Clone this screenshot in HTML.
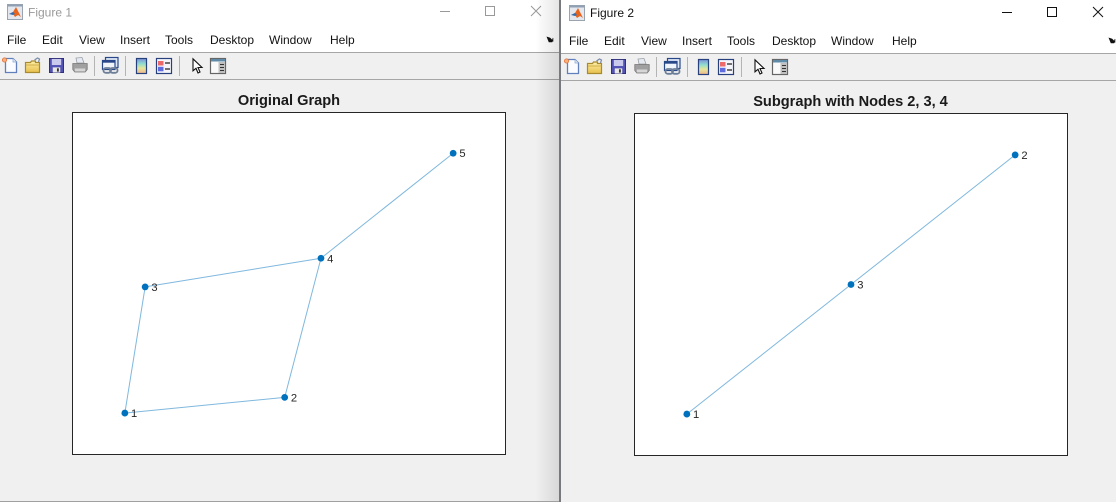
<!DOCTYPE html>
<html lang="en">
<head>
<meta charset="utf-8">
<title>Figure 1 and Figure 2</title>
<style>
html,body{margin:0;padding:0;width:1116px;height:502px;overflow:hidden;background:#f0f0f0}
svg{display:block;font-family:"Liberation Sans",sans-serif}
.menu{font-size:12px;fill:#111}
.ttl{font-size:12px}
.plot-title{font-size:14.6px;font-weight:bold;fill:#1a1a1a;text-anchor:middle}
.node-label{font-size:11.2px;fill:#262626}
</style>
</head>
<body>
<svg id="scene" width="1116" height="502" viewBox="0 0 1116 502" xmlns="http://www.w3.org/2000/svg">
<defs>
<linearGradient id="cb" x1="0" y1="0" x2="0" y2="1"><stop offset="0" stop-color="#7d8fd8"/><stop offset=".35" stop-color="#8fdcd0"/><stop offset=".65" stop-color="#e6e69a"/><stop offset="1" stop-color="#f0b48c"/></linearGradient>
<linearGradient id="shadow" x1="0" y1="0" x2="1" y2="0"><stop offset="0" stop-color="#000" stop-opacity="0"/><stop offset="1" stop-color="#000" stop-opacity=".1"/></linearGradient>
<linearGradient id="folder" x1="0" y1="0" x2="0" y2="1"><stop offset="0" stop-color="#fdf0a8"/><stop offset="1" stop-color="#e8c04c"/></linearGradient>
<symbol id="i-logo" viewBox="0 0 16 16" overflow="visible"><rect x=".5" y=".5" width="15" height="15" fill="#e4e8ee" stroke="#9aa4b0"/><rect x=".5" y=".5" width="15" height="2" fill="#8fa0b4"/><path d="M2 10l4-2 3-5 2 4 3 6-3-2-3 2-2-3z" fill="#e8641c"/><path d="M2 10l4-2 2 2-2 1z" fill="#2f6db0"/></symbol>
<symbol id="i-new" viewBox="0 0 16 16" overflow="visible"><path d="M3.500 1.500h7.500l3.500 3.500v10.500h-11z" fill="#fbfcff" stroke="#5f80bc" stroke-width="1.300"/><path d="M11 1.500v3.500h3.500" fill="#dfe8f6" stroke="#8ea6d0" stroke-width=".7"/><circle cx="2.500" cy="3" r="2.100" fill="#f4b080" stroke="#e87030" stroke-width=".8"/></symbol>
<symbol id="i-open" viewBox="0 0 16 16" overflow="visible"><path d="M.5 5.500h5l1-1.500h4v1.500h4v10h-14z" fill="url(#folder)" stroke="#a88a30" stroke-width="1.200"/><path d="M.8 8h13.800" stroke="#c8a238" stroke-width=".8"/><path d="M9.500 3l3-2 2 1-1 3" fill="none" stroke="#7a8ca8" stroke-width="1.200"/></symbol>
<symbol id="i-save" viewBox="0 0 16 16" overflow="visible"><rect x=".5" y=".5" width="15" height="15" fill="#5252b4" stroke="#2e2e78"/><rect x="3" y="1" width="10" height="6.500" fill="#c9c9ee"/><rect x="4" y="10" width="8" height="5.500" fill="#e8e8e8"/><rect x="8.500" y="11" width="2" height="3.500" fill="#333"/></symbol>
<symbol id="i-print" viewBox="0 0 16 16" overflow="visible"><path d="M4 1l6-.5 2 5.500h-7z" fill="#e6eaf0" stroke="#9aa0a8" stroke-width=".8"/><path d="M.8 6.500h14.400v6l-2 2.500h-10.400l-2-2.500z" fill="#a0a0a0" stroke="#767676" stroke-width=".8"/><rect x="2.800" y="11.500" width="10.400" height="3" fill="#d6d6d6"/></symbol>
<symbol id="i-link" viewBox="0 0 17 17" overflow="visible"><rect x="3.500" y=".5" width="12.500" height="10" fill="#dfe8f6" stroke="#29488a" stroke-width="1.200"/><rect x=".5" y="3.500" width="12.500" height="9" fill="#f0f4fb" stroke="#29488a" stroke-width="1.200"/><rect x=".5" y="3.500" width="12.500" height="2.200" fill="#29488a"/><rect x="1.500" y="11" width="7.500" height="4.800" rx="2.200" fill="none" stroke="#6d7f98" stroke-width="1.800"/><rect x="8" y="11" width="7.500" height="4.800" rx="2.200" fill="none" stroke="#6d7f98" stroke-width="1.800"/></symbol>
<symbol id="i-colorbar" viewBox="0 0 11 16" overflow="visible"><rect x=".5" y=".5" width="10" height="15" fill="url(#cb)" stroke="#27407e" stroke-width="1.200"/></symbol>
<symbol id="i-legend" viewBox="0 0 16 16" overflow="visible"><rect x=".5" y=".5" width="15" height="15" fill="#f6f6fa" stroke="#27407e" stroke-width="1.200"/><rect x="2" y="3" width="5.500" height="4.500" fill="#ec6a6a"/><rect x="2" y="8.800" width="5.500" height="4.500" fill="#5f6ce0"/><path d="M9 5h5M9 11h5" stroke="#222" stroke-width="1.200"/></symbol>
<symbol id="i-pointer" viewBox="0 0 11 16" overflow="visible"><path d="M1 .8v12l3-2.500 2 4.700 2-1-2-4.500h4z" fill="#fff" stroke="#111" stroke-width="1.100"/></symbol>
<symbol id="i-panel" viewBox="0 0 16 16" overflow="visible"><rect x=".5" y=".5" width="15" height="15" fill="#fafafa" stroke="#666" stroke-width="1.200"/><rect x="1" y="1" width="14" height="2.500" fill="#5f8aa8"/><rect x="8.500" y="4" width="6.500" height="11" fill="#c0c0c0"/><path d="M10 6.500h4M10 9.500h4M10 12.500h4" stroke="#333"/></symbol>
</defs>

<!-- Figure 1 window -->
<g id="window-1">
<rect x="0" y="0" width="560" height="502" fill="#f0f0f0"/>
<rect x="0" y="0" width="560" height="52" fill="#ffffff"/>
<use href="#i-logo" x="7" y="4" width="16" height="16"/>
<text class="ttl" x="28" y="16.500" fill="#999999">Figure 1</text>
<path d="M440 11.500h10" stroke="#999" fill="none"/>
<rect x="485.500" y="6.500" width="9" height="9" fill="none" stroke="#999"/>
<path d="M531 6l10 10M541 6l-10 10" stroke="#999" fill="none"/>
<text class="menu" x="7" y="44">File</text>
<text class="menu" x="42" y="44">Edit</text>
<text class="menu" x="79" y="44">View</text>
<text class="menu" x="120" y="44">Insert</text>
<text class="menu" x="165" y="44">Tools</text>
<text class="menu" x="210" y="44">Desktop</text>
<text class="menu" x="269" y="44">Window</text>
<text class="menu" x="330" y="44">Help</text>
<path d="M547 37l3 1 3 3v-3l-1 4h-3z" fill="#111" stroke="#111" stroke-width=".6"/>
<rect x="0" y="52" width="560" height="1" fill="#a6a6a6"/>
<use href="#i-new" x="2" y="57" width="16" height="16"/>
<use href="#i-open" x="25" y="57" width="16" height="16"/>
<use href="#i-save" x="49" y="58" width="15" height="15"/>
<use href="#i-print" x="72" y="57" width="16" height="16"/>
<rect x="94" y="56" width="1" height="20" fill="#b4b4b4"/>
<use href="#i-link" x="102" y="57" width="17" height="17"/>
<rect x="125" y="56" width="1" height="20" fill="#b4b4b4"/>
<use href="#i-colorbar" x="136" y="58" width="11" height="16"/>
<use href="#i-legend" x="156" y="58" width="16" height="16"/>
<rect x="179" y="56" width="1" height="20" fill="#b4b4b4"/>
<use href="#i-pointer" x="192" y="58" width="11" height="16"/>
<use href="#i-panel" x="210" y="58" width="16" height="16"/>
<rect x="0" y="79" width="560" height="1" fill="#a6a6a6"/>
<text class="plot-title" x="289" y="105">Original Graph</text>
<rect x="72.500" y="112.500" width="433" height="342" fill="#fff" stroke="#262626"/>
<g id="plot-1"></g>
<rect x="535" y="0" width="24" height="502" fill="url(#shadow)"/>
<rect x="0" y="501" width="560" height="1" fill="#a0a0a0"/>
</g>

<rect x="559" y="0" width="2" height="502" fill="#77797c"/>

<!-- Figure 2 window -->
<g id="window-2">
<rect x="561" y="0" width="555" height="502" fill="#f0f0f0"/>
<rect x="561" y="0" width="555" height="53" fill="#ffffff"/>
<use href="#i-logo" x="569" y="5" width="16" height="16"/>
<text class="ttl" x="590" y="17" fill="#111111">Figure 2</text>
<path d="M1002 12.500h10" stroke="#111" fill="none"/>
<rect x="1047.500" y="7.500" width="9" height="9" fill="none" stroke="#111"/>
<path d="M1093 7l10 10M1103 7l-10 10" stroke="#111" fill="none"/>
<text class="menu" x="569" y="45">File</text>
<text class="menu" x="604" y="45">Edit</text>
<text class="menu" x="641" y="45">View</text>
<text class="menu" x="682" y="45">Insert</text>
<text class="menu" x="727" y="45">Tools</text>
<text class="menu" x="772" y="45">Desktop</text>
<text class="menu" x="831" y="45">Window</text>
<text class="menu" x="892" y="45">Help</text>
<path d="M1109 38l3 1 3 3v-3l-1 4h-3z" fill="#111" stroke="#111" stroke-width=".6"/>
<rect x="561" y="53" width="555" height="1" fill="#a6a6a6"/>
<use href="#i-new" x="564" y="58" width="16" height="16"/>
<use href="#i-open" x="587" y="58" width="16" height="16"/>
<use href="#i-save" x="611" y="59" width="15" height="15"/>
<use href="#i-print" x="634" y="58" width="16" height="16"/>
<rect x="656" y="57" width="1" height="20" fill="#b4b4b4"/>
<use href="#i-link" x="664" y="58" width="17" height="17"/>
<rect x="687" y="57" width="1" height="20" fill="#b4b4b4"/>
<use href="#i-colorbar" x="698" y="59" width="11" height="16"/>
<use href="#i-legend" x="718" y="59" width="16" height="16"/>
<rect x="741" y="57" width="1" height="20" fill="#b4b4b4"/>
<use href="#i-pointer" x="754" y="59" width="11" height="16"/>
<use href="#i-panel" x="772" y="59" width="16" height="16"/>
<rect x="561" y="80" width="555" height="1" fill="#a6a6a6"/>
<text class="plot-title" x="850.500" y="106">Subgraph with Nodes 2, 3, 4</text>
<rect x="634.500" y="113.500" width="433" height="342" fill="#fff" stroke="#262626"/>
<g id="plot-2"></g>
</g>
</svg>
<script>
// Original graph: node coordinates on a 0-100 axis
var originalLabels = ["1", "2", "3", "4", "5"];
var originalX = [12, 49, 16.7, 57.4, 88];
var originalY = [12, 16.6, 49, 57.4, 88.2];
var originalEdges = [[1, 2], [1, 3], [2, 4], [3, 4], [4, 5]];

// Subgraph with nodes 2, 3, 4
var subgraphLabels = ["1", "2", "3"];
var subgraphX = [12, 88, 50];
var subgraphY = [12, 88, 50];
var subgraphEdges = [[1, 3], [3, 2]];

var NS = "http://www.w3.org/2000/svg";

function xAxis(box, v) { return box.left + v / 100 * box.width; }
function yAxis(box, v) { return box.bottom - v / 100 * box.height; }

function drawGraph(groupId, box, labels, xs, ys, edges) {
  var group = document.getElementById(groupId);
  edges.forEach(function (edge) {
    var a = edge[0] - 1, b = edge[1] - 1;
    var line = document.createElementNS(NS, "line");
    
    
    line.setAttribute("x1", xAxis(box, xs[a]));
    line.setAttribute("y1", yAxis(box, ys[a]));
    line.setAttribute("x2", xAxis(box, xs[b]));
    line.setAttribute("y2", yAxis(box, ys[b]));
    line.setAttribute("stroke", "#0072bd");
    line.setAttribute("stroke-opacity", "0.5");
    line.setAttribute("stroke-width", "1");
    group.appendChild(line);
  });
  labels.forEach(function (label, i) {
    var px = xAxis(box, xs[i]), py = yAxis(box, ys[i]);
    var dot = document.createElementNS(NS, "circle");
    
    
    dot.setAttribute("cx", px);
    dot.setAttribute("cy", py);
    dot.setAttribute("r", "3.4");
    dot.setAttribute("fill", "#0072bd");
    group.appendChild(dot);
    var text = document.createElementNS(NS, "text");
    
    
    text.setAttribute("class", "node-label");
    text.setAttribute("x", px + 6.2);
    text.setAttribute("y", py + 4);
    text.textContent = label;
    group.appendChild(text);
  });
}

drawGraph("plot-1", { left: 73, bottom: 454, width: 432, height: 341 },
  originalLabels, originalX, originalY, originalEdges);
drawGraph("plot-2", { left: 635, bottom: 455, width: 432, height: 341 },
  subgraphLabels, subgraphX, subgraphY, subgraphEdges);
</script>
</body>
</html>
